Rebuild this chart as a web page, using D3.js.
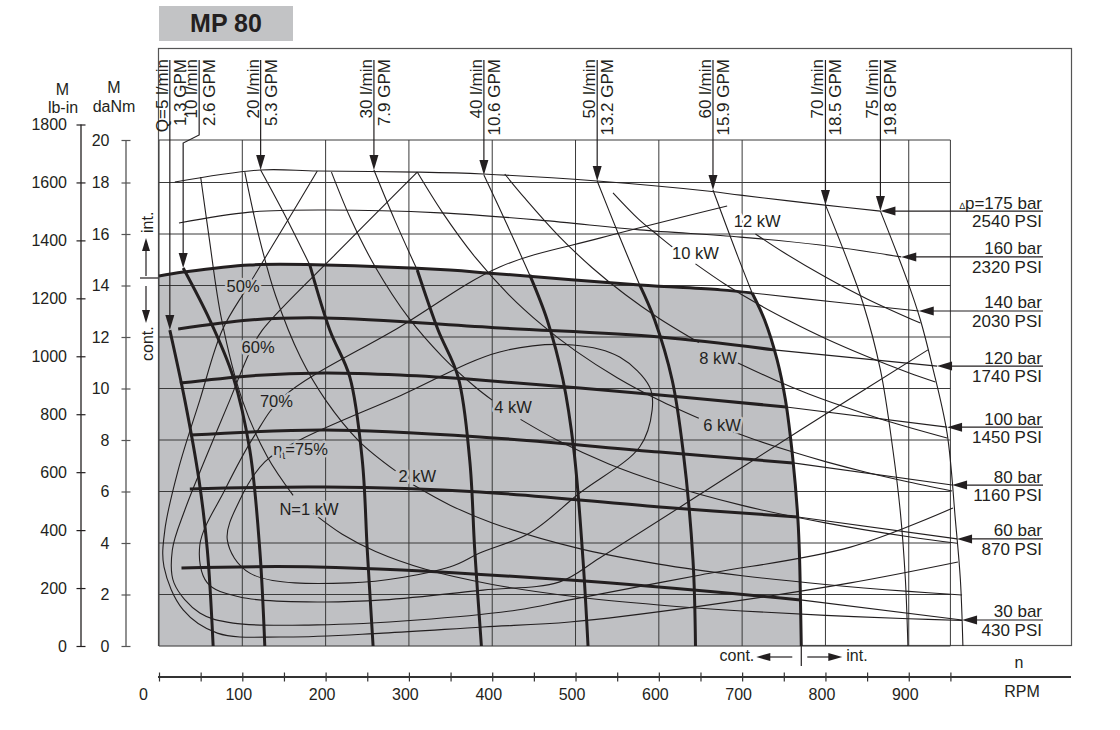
<!DOCTYPE html>
<html><head><meta charset="utf-8">
<script src="https://cdn.jsdelivr.net/npm/d3@7"></script>
<style>
body{margin:0;background:#fff}
svg{display:block;font-family:"Liberation Sans",Arial,sans-serif}
</style></head><body>
<svg id="chart" width="1120" height="730"></svg>
<script>
// ---------------- DATA (rpm, torque daNm) ----------------
const rpmTicks = [0,50,100,150,200,250,300,350,400,450,500,550,600,650,700,750,800,850,900,950];
const rpmLabels = [0,100,200,300,400,500,600,700,800,900];
const gridRpm = [0,100,200,300,400,500,600,700,800,900,950];
const lbinTicks = [0,200,400,600,800,1000,1200,1400,1600,1800];
const danmTicks = [0,2,4,6,8,10,12,14,16,18,20];

const flowLpm = ["Q=5 l/min","10 l/min","20 l/min","30 l/min","40 l/min","50 l/min","60 l/min","70 l/min","75 l/min"];
const flowGpm = ["1.3 GPM","2.6 GPM","5.3 GPM","7.9 GPM","10.6 GPM","13.2 GPM","15.9 GPM","18.5 GPM","19.8 GPM"];

const q5Cont  = [[13,12.27],[31,9.55],[48,6.45],[58,3.73],[65,0]];
const q10Cont = [[29,14.68],[61,12.66],[89,10.45],[109,7.61],[121,3.73],[127,0]];
const q20Int  = [[122,18.59],[151,16.74],[181,14.8]];
const q20Cont = [[181,14.8],[205,12.27],[229,10.45],[244,7.22],[250,3.73],[257,0]];
const q30Int  = [[258,18.59],[283,16.54],[310,14.6]];
const q30Cont = [[310,14.6],[335,12.27],[359,10.45],[373,7.22],[379,3.73],[387,0]];
const q40Int  = [[390,18.35],[418,16.35],[445,14.41]];
const q40Cont = [[445,14.41],[466,12.66],[485,10.33],[498,7.61],[509,3.34],[515,0]];
const q50Int  = [[526,18.07],[551,16.04],[577,14.02]];
const q50Cont = [[577,14.02],[595,12.66],[616,10.33],[629,7.61],[641,3.34],[644,0]];
const q60Int  = [[665,17.71],[695,15.11],[712,13.71]];
const q60Cont = [[712,13.71],[727,12.66],[742,11.11],[752,9.55],[761,7.22],[767,4.89],[769,3.34],[770,1.79],[771,0]];
const q70Int  = [[800,17.13],[824,15.18],[845,13.32],[866,10.72],[881,7.61],[890,5.17],[896,2.56],[899,0]];
const q75Int  = [[866,16.89],[898,14.21],[914,12.66],[928,10.91],[946,8.27],[956,4.89],[962,2.56],[965,0]];

const pBar = ["p=175 bar","160 bar","140 bar","120 bar","100 bar","80 bar","60 bar","30 bar"];
const pPsi = ["2540 PSI","2320 PSI","2030 PSI","1740 PSI","1450 PSI","1160 PSI","870 PSI","430 PSI"];

const p175Int  = [[19,18.02],[122,18.59],[190,18.54],[310,18.49],[389,18.4],[526,18.07],[658,17.67],[698,17.51],[797,17.13],[866,16.89]];
const p160Int  = [[24,16.43],[109,16.85],[199,16.93],[337,16.82],[457,16.54],[577,16.16],[698,15.88],[794,15.57],[891,15.11]];
const p140Cont = [[0,14.37],[29,14.52],[109,14.8],[199,14.8],[349,14.6],[397,14.48],[577,14.02],[674,13.83],[712,13.71]];
const p140Int  = [[712,13.71],[811,13.36],[912,13.01]];
const p120Cont = [[23,12.31],[109,12.66],[199,12.74],[409,12.35],[601,12.0],[738,11.5]];
const p120Int  = [[738,11.5],[934,10.87]];
const p100Cont = [[25,10.21],[109,10.49],[199,10.6],[289,10.52],[385,10.33],[601,9.75],[753,9.28]];
const p100Int  = [[753,9.28],[946,8.5]];
const p80Cont  = [[37,8.19],[199,8.39],[385,8.12],[601,7.53],[761,7.11]];
const p80Int   = [[761,7.11],[952,6.25]];
const p60Cont  = [[37,6.1],[199,6.17],[385,5.98],[601,5.4],[767,5.01]];
const p60Int   = [[767,5.01],[958,4.16]];
const p30Cont  = [[27,3.03],[189,3.07],[493,2.56],[770,1.79]];
const p30Int   = [[770,1.79],[964,1.01]];

const n1kWa  = [[50,18.26],[60,15.9],[75,12.7],[100,9.55],[130,7.35],[161,5.85]];
const n1kWb  = [[185,5.16],[220,4.34],[260,3.67],[320,2.98],[400,2.39],[500,1.91],[600,1.59],[700,1.36],[800,1.19],[900,1.06],[964,0.99]];
const n2kWa  = [[103,18.49],[120,15.9],[140,13.6],[170,11.2],[200,9.55],[240,7.96],[284,6.8]];
const n2kWb  = [[305,6.26],[350,5.46],[400,4.78],[500,3.82],[600,3.18],[700,2.73],[800,2.39],[900,2.12],[964,1.98]];
const n4kWa  = [[207,18.49],[230,16.6],[260,14.7],[300,12.73],[340,11.24],[380,10.05],[400,9.55]];
const n4kWb  = [[434,8.8],[480,7.96],[540,7.07],[600,6.37],[700,5.46],[800,4.78],[900,4.24],[958,3.99]];
const n6kWa  = [[310,18.49],[340,16.85],[380,15.08],[420,13.64],[460,12.46],[500,11.46],[550,10.42],[600,9.55],[648,8.84]];
const n6kWb  = [[686,8.36],[720,7.96],[760,7.54],[800,7.16],[850,6.74],[900,6.37],[952,6.02]];
const n8kWa  = [[415,18.4],[440,17.36],[480,15.92],[520,14.69],[560,13.64],[600,12.73],[648,11.79]];
const n8kWb  = [[695,10.99],[740,10.32],[780,9.79],[820,9.32],[870,8.78],[946,8.08]];
const n10kWa = [[545,17.6],[575,16.6],[600,15.92],[620,15.4]];
const n10kWb = [[644,14.84],[680,14.04],[720,13.26],[760,12.57],[800,11.94],[850,11.24],[900,10.61],[932,10.25]];
const n12kW  = [[716,16.0],[750,15.28],[800,14.33],[850,13.48],[914,12.54]];

const eta50 = [[190,18.54],[149,16.23],[107,13.98],[76,12.27],[49,9.55],[23,6.83],[7,4.5],[6,3.07],[29,1.4],[70,0.5],[149,0.35],[269,0.5],[389,0.74],[493,0.93],[650,1.55],[830,2.45],[959,3.26]];
const eta60 = [[310,18.49],[217,15.38],[124,12.27],[109,11.42],[85,9.55],[55,7.22],[31,5.28],[16,3.73],[18,2.45],[49,1.28],[89,0.89],[190,0.82],[310,1.01],[430,1.4],[493,1.79],[650,2.76],[830,3.84],[953,5.36]];
const eta70 = [[682,17.09],[529,15.84],[409,14.72],[289,12.39],[149,9.67],[115,8.19],[79,6.06],[49,3.92],[58,2.45],[97,1.9],[190,1.71],[269,1.79],[389,2.17],[481,2.49],[529,3.42],[650,5.9],[770,8.39],[923,11.5]];
const eta75 = [[169,8.0],[289,9.71],[409,11.42],[497,11.69],[553,11.22],[589,10.06],[592,9.17],[577,7.73],[505,5.94],[445,4.39],[385,3.61],[349,3.07],[229,2.45],[109,2.83],[82,4.12],[97,5.67],[127,7.15]];

const noteText = ["50%","60%","70%","=75%","N=1 kW","2 kW","4 kW","6 kW","8 kW","10 kW","12 kW"];
const noteAt = [[101,13.75],[119,11.39],[141,9.28],[170,7.42],[180,5.09],[310,6.37],[425,9.06],[676,8.35],[671,10.94],[644,15.02],[718,16.28]];

// ---------------- DRAWING ----------------
const INK = "#231f20", GRAY = "#bfc0c3";
const svg = d3.select("#chart");
const x = d3.scaleLinear().domain([0, 950]).range([159, 950.4]);
const y = d3.scaleLinear().domain([0, 18, 20]).range([646, 182.5, 140]);
const yLb = d3.scaleLinear().domain([0, 1800]).range([646, 124.5]);
const lineGen = d3.line().x(d => x(d[0])).y(d => y(d[1])).curve(d3.curveCatmullRom.alpha(0.5));
const loopGen = d3.line().x(d => x(d[0])).y(d => y(d[1])).curve(d3.curveCatmullRomClosed.alpha(0.5));

// title
svg.append("rect").attr("x",159).attr("y",6).attr("width",134).attr("height",35).attr("fill","#c2c3c5");
svg.append("text").attr("x",226).attr("y",32).attr("text-anchor","middle").attr("font-size",25)
  .attr("font-weight","bold").attr("fill",INK).text("MP 80");

// outer frame
svg.append("rect").attr("x",158.5).attr("y",48.5).attr("width",913).attr("height",597)
  .attr("fill","none").attr("stroke","#555").attr("stroke-width",1.2);

// continuous-duty region
const fillD = lineGen(p140Cont) + lineGen(q60Cont).replace(/^M/, "L") + `L${x(0)},${y(0)}Z`;
svg.append("path").attr("d", fillD).attr("fill", GRAY);

// grid
const grid = svg.append("g").attr("stroke","#3a3a3a").attr("stroke-width",1);
grid.selectAll(".v").data(gridRpm).join("line").attr("x1",d=>x(d)).attr("x2",d=>x(d)).attr("y1",y(0)).attr("y2",y(20));
grid.selectAll(".h").data(danmTicks).join("line").attr("class","h").attr("x1",x(0)).attr("x2",x(950)).attr("y1",d=>y(d)).attr("y2",d=>y(d));

// thin curves
const thin = [p175Int,p160Int,p140Int,p120Int,p100Int,p80Int,p60Int,p30Int,
  q20Int,q30Int,q40Int,q50Int,q60Int,q70Int,q75Int,
  n1kWa,n1kWb,n2kWa,n2kWb,n4kWa,n4kWb,n6kWa,n6kWb,n8kWa,n8kWb,n10kWa,n10kWb,n12kW,
  eta50,eta60,eta70];
svg.append("g").selectAll("path").data(thin).join("path").attr("d",lineGen)
  .attr("fill","none").attr("stroke",INK).attr("stroke-width",1.1);
svg.append("path").attr("d",loopGen(eta75)).attr("fill","none").attr("stroke",INK).attr("stroke-width",1.1);

// thick curves
const thick = [p140Cont,p120Cont,p100Cont,p80Cont,p60Cont,p30Cont,q5Cont,q10Cont,q20Cont,q30Cont,q40Cont,q50Cont,q60Cont];
svg.append("g").selectAll("path").data(thick).join("path").attr("d",lineGen)
  .attr("fill","none").attr("stroke",INK).attr("stroke-width",3).attr("stroke-linejoin","round");

// flow labels with arrows
const flowTips = [q5Cont[0],q10Cont[0],q20Int[0],q30Int[0],q40Int[0],q50Int[0],q60Int[0],q70Int[0],q75Int[0]];
const topG = svg.append("g").attr("font-size",17).attr("fill",INK);
flowTips.forEach((t,i) => {
  const tx = x(t[0]), ty = y(t[1]);
  const lx = i === 1 ? tx + 16 : tx;
  const d = i === 1 ? `M${lx},60V135L${tx},143V${ty-14}` : `M${lx},60V${ty-14}`;
  topG.append("path").attr("d",d).attr("fill","none").attr("stroke",INK).attr("stroke-width",1.2);
  topG.append("path").attr("d",`M${tx},${ty}L${tx-4.5},${ty-15}L${tx+4.5},${ty-15}Z`).attr("fill",INK);
  topG.append("text").attr("transform",`translate(${lx-2},59) rotate(-90)`).attr("text-anchor","end").text(flowLpm[i]);
  topG.append("text").attr("transform",`translate(${lx+16},59) rotate(-90)`).attr("text-anchor","end").text(flowGpm[i]);
});

// pressure labels with arrows
const pCurves = [p175Int,p160Int,p140Int,p120Int,p100Int,p80Int,p60Int,p30Int];
const rG = svg.append("g").attr("font-size",17).attr("fill",INK);
pCurves.forEach((c,i) => {
  const t = c[c.length-1], tx = x(t[0]), ty = y(t[1]);
  rG.append("line").attr("x1",tx+12).attr("x2",1043).attr("y1",ty).attr("y2",ty).attr("stroke",INK).attr("stroke-width",1.2);
  rG.append("path").attr("d",`M${tx},${ty}L${tx+15},${ty-4.5}L${tx+15},${ty+4.5}Z`).attr("fill",INK);
  const t1 = rG.append("text").attr("x",1042).attr("y",ty-2.5).attr("text-anchor","end");
  if (i === 0) t1.append("tspan").attr("font-size",9).text("\u2206");
  t1.append("tspan").text(pBar[i]);
  rG.append("text").attr("x",1042).attr("y",ty+16).attr("text-anchor","end").text(pPsi[i]);
});

// in-chart notes with halo
const fillPoly = p140Cont.concat(q60Cont).concat([[0,0]]).map(d=>[x(d[0]),y(d[1])]);
const nG = svg.append("g").attr("font-size",16.5).attr("fill",INK).attr("text-anchor","middle");
noteText.forEach((s,i) => {
  const px = x(noteAt[i][0]), py = y(noteAt[i][1]);
  const bg = d3.polygonContains(fillPoly,[px,py-5]) ? GRAY : "#fff";
  const t = nG.append("text").attr("x",px).attr("y",py).attr("stroke",bg).attr("stroke-width",5)
    .attr("paint-order","stroke").attr("stroke-linejoin","round");
  if (i === 3) {
    t.append("tspan").text("\u03b7");
    t.append("tspan").attr("font-size",10).attr("dy",4).text("t");
    t.append("tspan").attr("dy",-4).text(s);
  } else t.text(s);
});

// cont./int. markers (left)
const mk = svg.append("g").attr("fill",INK).attr("stroke",INK).attr("font-size",16);
mk.append("line").attr("x1",140).attr("x2",158).attr("y1",278).attr("y2",278).attr("stroke-width",1.2);
mk.append("line").attr("x1",146).attr("x2",146).attr("y1",276).attr("y2",248).attr("stroke-width",1.2);
mk.append("path").attr("d","M146,238L142,251L150,251Z").attr("stroke","none");
mk.append("line").attr("x1",146).attr("x2",146).attr("y1",286).attr("y2",312).attr("stroke-width",1.2);
mk.append("path").attr("d","M146,323L142,310L150,310Z").attr("stroke","none");
mk.append("text").attr("transform","translate(153,233) rotate(-90)").attr("stroke","none").text("int.");
mk.append("text").attr("transform","translate(153,361) rotate(-90)").attr("stroke","none").text("cont.");
// bottom
const bx = x(q60Cont[q60Cont.length-1][0]);
mk.append("line").attr("x1",bx).attr("x2",bx).attr("y1",646).attr("y2",666).attr("stroke-width",1.2);
mk.append("line").attr("x1",bx-9).attr("x2",bx-34).attr("y1",657).attr("y2",657).attr("stroke-width",1.2);
mk.append("path").attr("d",`M${bx-45},657L${bx-31},653L${bx-31},661Z`).attr("stroke","none");
mk.append("line").attr("x1",bx+6).attr("x2",bx+30).attr("y1",657).attr("y2",657).attr("stroke-width",1.2);
mk.append("path").attr("d",`M${bx+41},657L${bx+27},653L${bx+27},661Z`).attr("stroke","none");
mk.append("text").attr("x",bx-47).attr("y",661).attr("text-anchor","end").attr("stroke","none").text("cont.");
mk.append("text").attr("x",bx+45).attr("y",661).attr("stroke","none").text("int.");

// axes
const FONT = "'Liberation Sans', Arial, sans-serif";
const gLb = svg.append("g").attr("transform","translate(81,0)")
  .call(d3.axisLeft(yLb).tickValues(lbinTicks).tickSize(4.5).tickPadding(9.5).tickFormat(d3.format("d")));
gLb.attr("font-family",FONT).attr("font-size",16);
gLb.select(".domain").remove();
gLb.append("line").attr("y1",yLb(0)).attr("y2",yLb(1800)).attr("stroke",INK).attr("stroke-width",1.3);
gLb.selectAll(".tick line").attr("x1",-4.5).attr("x2",4.5).attr("stroke",INK).attr("stroke-width",1.2);
gLb.selectAll(".tick text").attr("fill",INK);

const gDa = svg.append("g").attr("transform","translate(126,0)")
  .call(d3.axisLeft(y).tickValues(danmTicks).tickSize(4.5).tickPadding(12).tickFormat(d3.format("d")));
gDa.attr("font-family",FONT).attr("font-size",16);
gDa.select(".domain").remove();
gDa.append("line").attr("y1",y(0)).attr("y2",y(20)).attr("stroke","#555").attr("stroke-width",1.3);
gDa.selectAll(".tick line").attr("x1",-4.5).attr("x2",4.5).attr("stroke","#555").attr("stroke-width",1.2);
gDa.selectAll(".tick text").attr("fill",INK);

const gx = svg.append("g").attr("transform","translate(0,677)")
  .call(d3.axisBottom(x).tickValues(rpmTicks).tickSize(4.5).tickFormat(v => rpmLabels.includes(v) ? d3.format("d")(v) : ""));
gx.attr("font-family",FONT).attr("font-size",16);
gx.select(".domain").remove();
gx.append("line").attr("x1",158).attr("x2",1071).attr("stroke","#333").attr("stroke-width",2);
gx.selectAll(".tick line").attr("y1",-4.5).attr("y2",4.5).attr("stroke","#333").attr("stroke-width",1.2);
gx.selectAll(".tick text").attr("y",12).attr("dx",v => v === 0 ? -16 : -4).attr("fill",INK);

// axis titles
const at = svg.append("g").attr("font-size",16).attr("fill",INK).attr("text-anchor","middle");
at.append("text").attr("x",62.5).attr("y",95).text("M");
at.append("text").attr("x",63).attr("y",113).text("lb-in");
at.append("text").attr("x",114).attr("y",93).text("M");
at.append("text").attr("x",114).attr("y",111.5).text("daNm");
at.append("text").attr("x",1019).attr("y",668).text("n");
at.append("text").attr("x",1022).attr("y",697).text("RPM");
</script></body></html>
